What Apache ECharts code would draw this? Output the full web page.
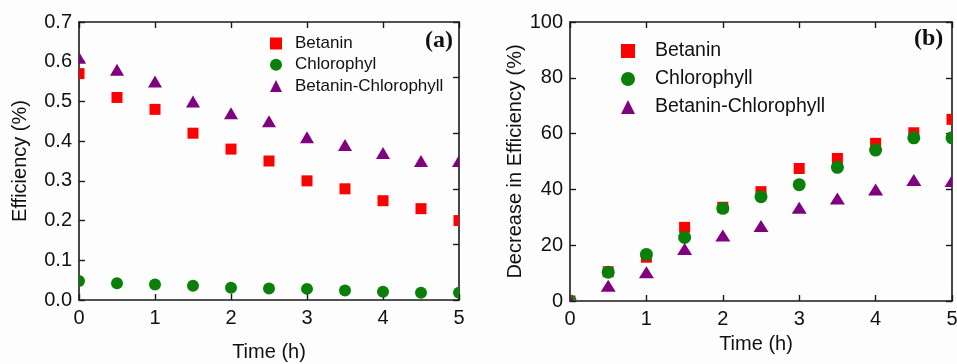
<!DOCTYPE html>
<html>
<head>
<meta charset="utf-8">
<script src="https://cdn.jsdelivr.net/npm/echarts@6/dist/echarts.min.js"></script>
<style>
html,body{margin:0;padding:0;background:#fdfdfd;}
#chart{width:957px;height:364px;}
</style>
</head>
<body>
<div id="chart"></div>
<script>
// ---- data ----
const timeH = [0, 0.5, 1, 1.5, 2, 2.5, 3, 3.5, 4, 4.5, 5];
// (a) efficiency (%)
const effBetanin = [0.57, 0.51, 0.48, 0.42, 0.38, 0.35, 0.30, 0.28, 0.25, 0.23, 0.20];
const effChlorophyl = [0.048, 0.042, 0.039, 0.036, 0.031, 0.029, 0.028, 0.024, 0.021, 0.018, 0.018];
const effMixed = [0.61, 0.58, 0.55, 0.50, 0.47, 0.45, 0.41, 0.39, 0.37, 0.35, 0.35];
// (b) decrease in efficiency (%)
const decBetanin = [0, 10.5, 15.7, 26.4, 33.6, 39.2, 47.5, 51.1, 56.5, 60.3, 65.1];
const decChlorophyll = [0, 10.3, 16.7, 22.8, 33.2, 37.4, 41.7, 47.9, 54.1, 58.5, 58.5];
const decMixed = [0, 5.5, 10.3, 18.6, 23.5, 26.9, 33.4, 36.7, 40.0, 43.4, 43.0];
const xTicks = [0, 1, 2, 3, 4, 5];

const pair = (ys) => timeH.map((t, i) => [t, ys[i]]);

const FONT = 'Liberation Sans, Arial, sans-serif';
const AX = '#1a1a1a';
const RED = '#ff0000', GREEN = '#0a800a', PURPLE = '#800080';

function xAx(grid, pos, labels, nameTxt, namePad) {
  return {
    type: 'value', gridIndex: grid, position: pos, min: 0, max: 5, interval: 1,
    axisLine: {show: true, onZero: false, lineStyle: {color: AX, width: 1.6}},
    axisTick: {show: true, inside: true, length: 6, lineStyle: {color: AX, width: 1.4}},
    axisLabel: {show: labels, margin: 8, fontSize: 20, color: '#111', fontFamily: FONT},
    splitLine: {show: false},
    name: nameTxt || '', nameLocation: 'middle', nameGap: labels ? (grid === 0 ? 42 : 33) : 0,
    nameTextStyle: {fontSize: 20, color: '#111', fontFamily: FONT, padding: namePad || 0}
  };
}
function yAx(grid, pos, min, max, interval, labels, fmt, nameTxt, gap) {
  return {
    type: 'value', gridIndex: grid, position: pos, min: min, max: max, interval: interval,
    axisLine: {show: true, onZero: false, lineStyle: {color: AX, width: 1.6}},
    axisTick: {show: true, inside: true, length: 6, lineStyle: {color: AX, width: 1.4}},
    axisLabel: {show: labels, margin: 7, fontSize: 20, color: '#111', fontFamily: FONT, formatter: fmt},
    splitLine: {show: false},
    name: nameTxt || '', nameLocation: 'middle', nameGap: gap || 0,
    nameTextStyle: {fontSize: 20, color: '#111', fontFamily: FONT}
  };
}

// marker drawn via the axis scales (api.coord), clipped to the plot area
function markerRenderer(kind, w, h, color) {
  return function (params, api) {
    const p = api.coord([api.value(0), api.value(1)]);
    const style = {fill: color};
    if (kind === 'rect') {
      return {type: 'rect', shape: {x: p[0] - w / 2, y: p[1] - h / 2, width: w, height: h}, style};
    }
    if (kind === 'circle') {
      return {type: 'circle', shape: {cx: p[0], cy: p[1], r: w / 2}, style};
    }
    return {type: 'polygon', shape: {points: [[p[0], p[1] - h / 2], [p[0] + w / 2, p[1] + h / 2], [p[0] - w / 2, p[1] + h / 2]]}, style};
  };
}

function sc(name, x, y, data, kind, w, h, color) {
  return {
    type: 'custom', name: name, xAxisIndex: x, yAxisIndex: y, data: data,
    renderItem: markerRenderer(kind, w, h, color),
    itemStyle: {color: color},
    encode: {x: 0, y: 1},
    clip: true, silent: true
  };
}

const iconRect = 'rect', iconCircle = 'circle', iconTri = 'triangle';

const chart = echarts.init(document.getElementById('chart'), null, {renderer: 'canvas'});
chart.setOption({
  backgroundColor: '#fdfdfd',
  animation: false,
  grid: [
    {left: 79, right: 498, top: 22, bottom: 64, outerBoundsMode: 'none', containLabel: false},
    {left: 570, right: 5, top: 22, bottom: 63, outerBoundsMode: 'none', containLabel: false}
  ],
  xAxis: [
    xAx(0, 'bottom', true, 'Time (h)'),
    xAx(0, 'top', false),
    xAx(1, 'bottom', true, 'Time (h)', [0, 10, 0, 0]),
    xAx(1, 'top', false)
  ],
  yAxis: [
    yAx(0, 'left', 0, 0.7, 0.1, true, v => v.toFixed(1), 'Efficiency (%)', 49),
    yAx(0, 'right', 0, 5, 1, false),
    yAx(1, 'left', 0, 100, 20, true, v => String(Math.round(v)), 'Decrease in Efficiency (%)', 45),
    yAx(1, 'right', 0, 100, 20, false)
  ],
  legend: [
    {
      orient: 'vertical', left: 265, top: 30, itemGap: 4.2, itemWidth: 12, itemHeight: 12,
      data: [
        {name: 'Betanin', icon: iconRect, itemStyle: {color: RED}},
        {name: 'Chlorophyl', icon: iconCircle, itemStyle: {color: GREEN}},
        {name: 'Betanin-Chlorophyll', icon: iconTri, itemStyle: {color: PURPLE}}
      ],
      textStyle: {fontSize: 17, color: '#111', fontFamily: FONT, padding: [0, 0, 0, 8]},
      selectedMode: false
    },
    {
      orient: 'vertical', left: 616, top: 36, itemGap: 8, itemWidth: 14, itemHeight: 14,
      data: [
        {name: 'Betanin ', icon: iconRect, itemStyle: {color: RED}},
        {name: 'Chlorophyll', icon: iconCircle, itemStyle: {color: GREEN}},
        {name: 'Betanin-Chlorophyll ', icon: iconTri, itemStyle: {color: PURPLE}}
      ],
      textStyle: {fontSize: 19.5, color: '#111', fontFamily: FONT, padding: [0, 0, 0, 15]},
      selectedMode: false
    }
  ],
  series: [
    sc('Betanin', 0, 0, pair(effBetanin), 'rect', 11, 11, RED),
    sc('Chlorophyl', 0, 0, pair(effChlorophyl), 'circle', 12, 12, GREEN),
    sc('Betanin-Chlorophyll', 0, 0, pair(effMixed), 'tri', 14, 12, PURPLE),
    sc('Betanin ', 2, 2, pair(decBetanin), 'rect', 11, 11, RED),
    sc('Chlorophyll', 2, 2, pair(decChlorophyll), 'circle', 13, 13, GREEN),
    sc('Betanin-Chlorophyll ', 2, 2, pair(decMixed), 'tri', 15, 12, PURPLE)
  ],
  graphic: [
    {type: 'text', left: 425, top: 29, style: {text: '(a)', font: 'bold 24px "Liberation Serif", "Times New Roman", serif', fill: '#111'}},
    {type: 'text', left: 914, top: 27, style: {text: '(b)', font: 'bold 24px "Liberation Serif", "Times New Roman", serif', fill: '#111'}}
  ]
});
</script>
</body>
</html>
